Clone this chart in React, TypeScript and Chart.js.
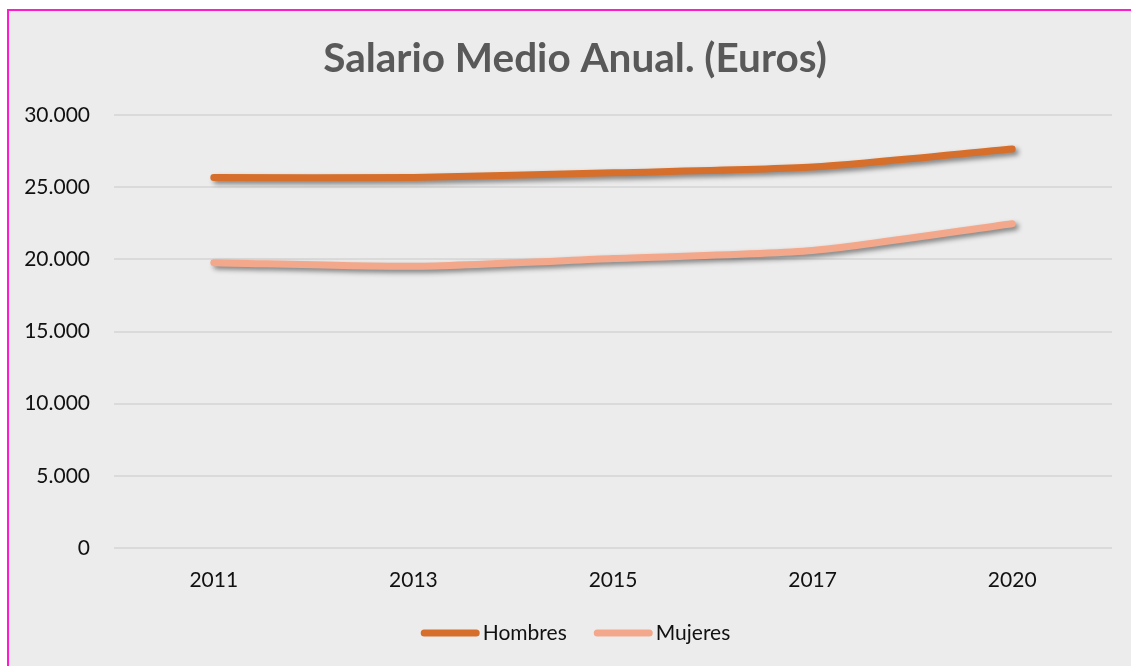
import React, { useEffect, useRef } from "react";
import { Chart, registerables } from "chart.js";

Chart.register(...registerables);

const years = ["2011", "2013", "2015", "2017", "2020"];
const hombres = [25667, 25675, 25993, 26391, 27643];
const mujeres = [19768, 19515, 20052, 20608, 22467];
const yTicks = [0, 5000, 10000, 15000, 20000, 25000, 30000];
const titleText = "Salario Medio Anual. (Euros)";
const seriesNames = ["Hombres", "Mujeres"];
const seriesColors = ["#d56f2b", "#f3a88b"];

const fmt = (v: number) => String(Math.round(v)).replace(/\B(?=(\d{3})+(?!\d))/g, ".");

const shadowPlugin = {
  id: "lineShadow",
  beforeDatasetsDraw(chart: any) {
    const ctx = chart.ctx;
    ctx.save();
    ctx.shadowColor = "rgba(0,0,0,0.45)";
    ctx.shadowBlur = 5;
    ctx.shadowOffsetX = 3;
    ctx.shadowOffsetY = 3;
  },
  afterDatasetsDraw(chart: any) {
    chart.ctx.restore();
  },
};

const titlePlugin = {
  id: "customTitle",
  afterDraw(chart: any) {
    const ctx = chart.ctx;
    ctx.save();
    ctx.font = "bold 40.5px Lato";
    ctx.fillStyle = "#595959";
    ctx.textAlign = "center";
    ctx.textBaseline = "middle";
    ctx.fillText(titleText, chart.width / 2 + 5, 47.8);
    ctx.restore();
  },
};

const legendPlugin = {
  id: "customLegend",
  afterDraw(chart: any) {
    const ctx = chart.ctx;
    const font = "21px Lato";
    const lineLen = 52;
    const lw = 7;
    const gapText = 6;
    const gapItem = 24;
    ctx.save();
    ctx.font = font;
    const items = chart.data.datasets.map((d: any) => ({
      text: d.label,
      color: d.borderColor,
      w: ctx.measureText(d.label).width,
    }));
    const total =
      items.reduce((a: number, it: any) => a + lineLen + lw + gapText + it.w, 0) + gapItem * (items.length - 1);
    let x = chart.width / 2 + 7 - total / 2;
    const y = chart.chartArea.bottom + 85;
    items.forEach((it: any) => {
      ctx.beginPath();
      ctx.strokeStyle = it.color;
      ctx.lineWidth = lw;
      ctx.lineCap = "round";
      ctx.moveTo(x + lw / 2, y);
      ctx.lineTo(x + lw / 2 + lineLen, y);
      ctx.stroke();
      x += lineLen + lw + gapText;
      ctx.fillStyle = "#111111";
      ctx.textBaseline = "middle";
      ctx.textAlign = "left";
      ctx.fillText(it.text, x - 3, y);
      x += it.w + gapItem;
    });
    ctx.restore();
  },
};

export default function App() {
  const ref = useRef<HTMLCanvasElement>(null);
  useEffect(() => {
    document.body.style.margin = "0";
    const chart = new Chart(ref.current!, {
      type: "line",
      data: {
        labels: years,
        datasets: [hombres, mujeres].map((vals, i) => ({
          label: seriesNames[i],
          data: vals,
          borderColor: seriesColors[i],
          backgroundColor: seriesColors[i],
          borderWidth: 7,
          borderCapStyle: "round",
          borderJoinStyle: "round",
          pointRadius: 0,
          tension: 0.22,
        })),
      },
      options: {
        animation: false,
        responsive: false,
        maintainAspectRatio: false,
        layout: { padding: { left: 0, right: 19, top: 104, bottom: 0 } },
        plugins: {
          title: { display: false },
          legend: { display: false },
          tooltip: { enabled: false },
        },
        scales: {
          x: {
            offset: true,
            grid: { display: false, drawTicks: false },
            border: { display: false },
            ticks: { color: "#111111", font: { family: "Lato", size: 21 }, padding: 20 },
            afterFit: (s: any) => {
              s.height = 118;
            },
          },
          y: {
            min: 0,
            max: 30000,
            afterBuildTicks: (s: any) => {
              s.ticks = yTicks.map((v) => ({ value: v }));
            },
            grid: { color: "#dadada", lineWidth: 2, drawTicks: false },
            border: { display: false },
            ticks: {
              color: "#111111",
              font: { family: "Lato", size: 21 },
              padding: 24,
              callback: (v: any) => fmt(Number(v)),
            },
            afterFit: (s: any) => {
              s.width = 105;
            },
          },
        },
      } as any,
      plugins: [shadowPlugin, titlePlugin, legendPlugin],
    });
    return () => chart.destroy();
  }, []);

  return (
    <div style={{ position: "absolute", left: 0, top: 0, width: 1131, height: 666, background: "#ffffff", overflow: "hidden" }}>
      <div
        style={{
          position: "absolute",
          left: 7,
          top: 9,
          width: 1124,
          height: 657,
          boxSizing: "border-box",
          borderLeft: "2px solid #ff1ccf",
          borderTop: "2px solid #ff1ccf",
          background: "#ececec",
        }}
      >
        <canvas ref={ref} width={1122} height={655} style={{ display: "block", width: 1122, height: 655 }} />
      </div>
    </div>
  );
}
